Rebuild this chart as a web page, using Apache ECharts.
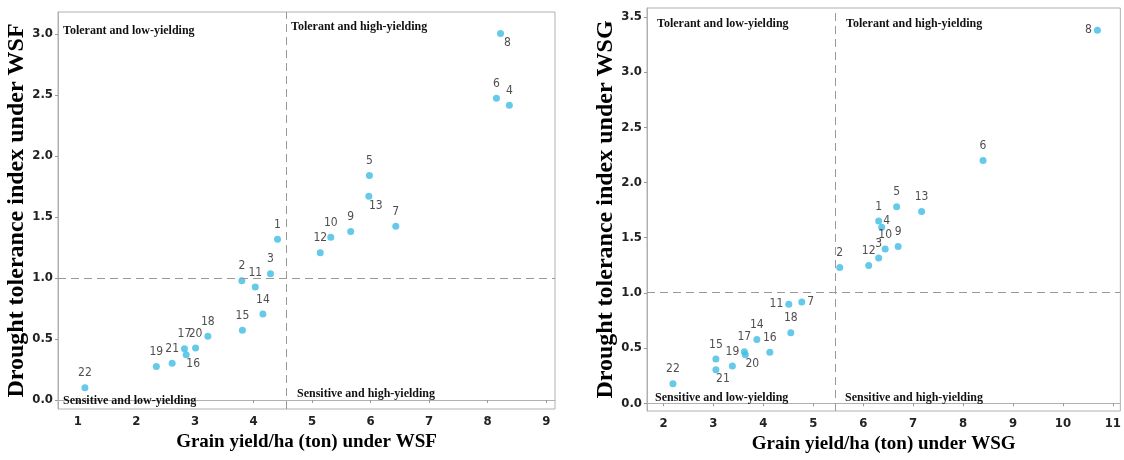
<!DOCTYPE html>
<html><head><meta charset="utf-8">
<script src="https://cdn.jsdelivr.net/npm/echarts@6/dist/echarts.min.js"></script>
<style>html,body{margin:0;padding:0;background:#fff}#c{width:1124px;height:460px}</style>
</head><body><div id="c"></div>
<script>
// Genotype numbers
const genotypes = ['1','2','3','4','5','6','7','8','9','10','11','12','13','14','15','16','17','18','19','20','21','22'];
// WSF panel
const wsfYield = [4.41,3.80,4.29,8.37,5.98,8.15,6.43,8.22,5.66,5.32,4.03,5.14,5.97,4.16,3.81,2.85,2.82,3.22,2.34,3.01,2.61,1.12];
const wsfDTI   = [1.318,0.978,1.035,2.415,1.84,2.473,1.424,3.004,1.38,1.334,0.926,1.207,1.669,0.705,0.572,0.37,0.42,0.523,0.275,0.425,0.30,0.10];
// WSG panel
const wsgYield = [6.31,5.53,6.31,6.37,6.67,8.40,4.77,10.69,6.70,6.44,4.51,6.11,7.17,3.87,3.05,4.13,3.62,4.55,3.38,3.64,3.05,2.19];
const wsgDTI   = [1.65,1.229,1.315,1.595,1.78,2.198,0.918,3.378,1.421,1.397,0.897,1.247,1.737,0.578,0.40,0.463,0.466,0.638,0.337,0.44,0.304,0.177];
// Tick labels
const wsfXTicks = [1,2,3,4,5,6,7,8,9];
const wsfYTicks = [0,0.5,1.0,1.5,2.0,2.5,3.0];
const wsgXTicks = [2,3,4,5,6,7,8,9,10,11];
const wsgYTicks = [0,0.5,1.0,1.5,2.0,2.5,3.0,3.5];
// Quadrant split values
const wsfSplit = [4.56, 1.0];
const wsgSplit = [5.45, 1.01];
// Label placement for each genotype
const wsfLabelSide = ['top','top','top','top','top','top','top','br','top','top','top','top','br','top','top','br','top','top','top','top','top','top'];
const wsgLabelSide = ['top','top','top','tr','top','top','right','left','top','top','left','top','top','top','top','top','top','top','top','br','br','top'];
const quadrantNames = ['Tolerant and low-yielding','Tolerant and high-yielding','Sensitive and low-yielding','Sensitive and high-yielding'];

const labelLayouts = {
  top:   {position:'top', distance:5},
  br:    {position:'bottom', distance:5, offset:[7,-5]},
  right: {position:'right', distance:2},
  left:  {position:'left', distance:2},
  tr:    {position:'right', distance:0, offset:[-2,-6]}
};

const tickFont = '"Liberation Sans Narrow","DejaVu Sans Condensed","Liberation Sans",sans-serif';
const serif = '"Liberation Serif","Times New Roman",serif';
const dotColor = '#3FBDE3';

function buildData(xs, ys, sides){
  return xs.map((x,i)=>({
    value:[x, ys[i]],
    name: genotypes[i],
    label: Object.assign({}, labelLayouts[sides[i]])
  }));
}

function xAxis(idx, min, max, ticks, name){
  return {
    type:'value', gridIndex:idx, min:min, max:max,
    name:name, nameLocation:'middle', nameGap:24,
    nameTextStyle:{fontFamily:serif, fontWeight:'bold', fontSize:19, color:'#000'},
    axisLine:{show:true, lineStyle:{color:'#b0b0b0', width:1}},
    axisTick:{show:true, length:3, customValues:ticks, lineStyle:{color:'#999'}},
    axisLabel:{customValues:ticks, margin:6, fontFamily:tickFont, fontWeight:'bold', fontSize:13, color:'#222'},
    splitLine:{show:false}
  };
}
function yAxis(idx, min, max, ticks, name){
  return {
    type:'value', gridIndex:idx, min:min, max:max,
    name:name, nameLocation:'middle', nameGap:24,
    nameTextStyle:{fontFamily:serif, fontWeight:'bold', fontSize:24, color:'#000'},
    axisLine:{show:true, lineStyle:{color:'#b0b0b0', width:1}},
    axisTick:{show:true, length:3, customValues:ticks, lineStyle:{color:'#999'}},
    axisLabel:{customValues:ticks, margin:5, fontFamily:tickFont, fontWeight:'bold', fontSize:13, color:'#222',
      formatter:v=>v.toFixed(1)},
    splitLine:{show:false}
  };
}
function series(idx, xs, ys, sides, split){
  return {
    type:'scatter', xAxisIndex:idx, yAxisIndex:idx,
    symbolSize:7, itemStyle:{color:dotColor},
    data: buildData(xs, ys, sides),
    label:{show:true, formatter:p=>p.name, fontFamily:tickFont, fontSize:12, color:'#222'},
    markLine:{
      silent:true, symbol:'none', label:{show:false},
      lineStyle:{color:'#999', width:1, type:[8,5]},
      data:[{xAxis:split[0]},{yAxis:split[1]}]
    }
  };
}

const qFont = 'bold 12px ' + serif;
function qText(x, y, t){
  return {type:'text', x:x, y:y, z:10, style:{text:t, font:qFont, fill:'#111', verticalAlign:'middle'}};
}

const chart = echarts.init(document.getElementById('c'), null, {renderer:'canvas'});
chart.setOption({
  animation:false,
  backgroundColor:'#fff',
  grid:[
    {left:58, top:12, width:497, height:397, show:true, borderColor:'#b0b0b0', borderWidth:1, backgroundColor:'transparent'},
    {left:647, top:8, width:474, height:403, show:true, borderColor:'#b0b0b0', borderWidth:1, backgroundColor:'transparent'}
  ],
  xAxis:[
    xAxis(0, 0.66, 9.15, wsfXTicks, 'Grain yield/ha (ton) under WSF'),
    xAxis(1, 1.67, 11.15, wsgXTicks, 'Grain yield/ha (ton) under WSG')
  ],
  yAxis:[
    yAxis(0, -0.074, 3.18, wsfYTicks, 'Drought tolerance index under WSF'),
    yAxis(1, -0.07, 3.58, wsgYTicks, 'Drought tolerance index under WSG')
  ],
  series:[
    series(0, wsfYield, wsfDTI, wsfLabelSide, wsfSplit),
    series(1, wsgYield, wsgDTI, wsgLabelSide, wsgSplit)
  ],
  graphic:[
    qText(63, 31, quadrantNames[0]),
    qText(291, 27, quadrantNames[1]),
    qText(63, 401, quadrantNames[2]),
    qText(297, 394, quadrantNames[3]),
    qText(657, 24, quadrantNames[0]),
    qText(846, 24, quadrantNames[1]),
    qText(655, 398, quadrantNames[2]),
    qText(845, 398, quadrantNames[3])
  ]
});
</script></body></html>
